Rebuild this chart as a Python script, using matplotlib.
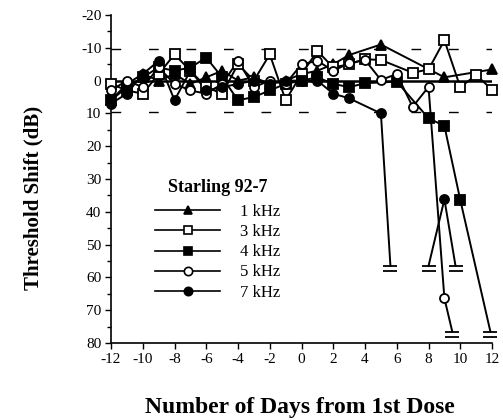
import numpy as np
import matplotlib
matplotlib.use('Agg')
from matplotlib import pyplot as plt
from matplotlib.path import Path

plt.rcParams['font.family'] = 'Liberation Serif'
plt.rcParams['axes.unicode_minus'] = False

nan = np.nan

# each series in drawing order; cap = "no response" point, nan = break in the line
day_1k = [-12, -11, -10, -9, -8, -7, -6, -5, -4, -3, -2, -1, 0, 1, 2, 3, 5, 9, 12]
shift_1k = [6, 1, -2, 0, -2, 1, -1, -3, 0, -1, 1, 0, -2, -3, -5, -7.8, -11, -1, -3.4]
cap_1k = [False] * len(day_1k)

day_3k = [-12, -11, -10, -9, -8, -7, -6, -5, -4, -3, -2, -1, 0, 1, 2, 3, 4, 5, 7, 8, 9, 10, 11, 12]
shift_3k = [1, 3, 4, -2, -8, -3, 2, 4, -5, 0, -8, 6, -2, -9, -4, -5, -6.5, -6.3, -2.4, -3.4, -12.3, 2, -1.7, 2.8]
cap_3k = [False] * len(day_3k)

day_4k = [-12, -11, -10, -9, -8, -7, -6, -5, -4, -3, -2, -1, 0, 1, 2, 3, 4, 6, 8, 9, 10, 11.9]
shift_4k = [6, 2, -1, -4, -3, -4, -7, -1, 6, 5, 3, 1, 0, -1, 1, 2, 0.8, 0.3, 11.5, 13.8, 36.4, 76.6]
cap_4k = [False] * 21 + [True]

day_5k = [-12, -11, -10, -9, -8, -7, -6, -5, -4, -3, -2, -1, 0, 1, 2, 3, 4, 5, 6, 7, 8, 9, 9.5]
shift_5k = [3, 0, 2, -4, 1, 3, 4, 1, -6, 2, 0, 1, -5, -6, -3, -5.3, -6.3, -0.2, -2, 8, 1.9, 66.4, 76.6]
cap_5k = [False] * 22 + [True]

day_7k = [-12, -11, -10, -9, -8, -7, -6, -5, -4, -3, -2, -1, 0, 1, 2, 3, 5, 5.6, nan, 8, 9, 9.7]
shift_7k = [7, 4, -2, -6, 6, -3, 3, 2, 1, 0, 1, 0, 0, 0, 4, 5.4, 10, 56.5, nan, 56.5, 36.2, 56.5]
cap_7k = [False] * 17 + [True, False, True, False, True]

labels = ['1 kHz', '3 kHz', '4 kHz', '5 kHz', '7 kHz']
x_ticks = list(range(-12, 13, 2))
y_ticks = list(range(-20, 81, 10))
normal_band = [-9.5, 9.5]

series = [
    (day_1k, shift_1k, cap_1k, '^', 'black'),
    (day_3k, shift_3k, cap_3k, 's', 'white'),
    (day_4k, shift_4k, cap_4k, 's', 'black'),
    (day_5k, shift_5k, cap_5k, 'o', 'white'),
    (day_7k, shift_7k, cap_7k, 'o', 'black'),
]

# double bar used for the no-response ends
cap_marker = Path([(-1, 0), (1, 0), (-1, -0.7), (1, -0.7)],
                  [Path.MOVETO, Path.LINETO, Path.MOVETO, Path.LINETO])

fig = plt.figure(figsize=(5.03, 4.20), dpi=100)
ax = fig.add_axes([0.2207, 0.1833, 0.7575, 0.781])

for y in normal_band:
    ax.axhline(y, color='black', lw=1, linestyle=(0, (7, 20)))
ax.axhline(0, color='black', lw=1.8, zorder=1)

for (d, s, c, m, fc), lab in zip(series, labels):
    d = np.array(d, dtype=float)
    s = np.array(s, dtype=float)
    c = np.array(c)
    ax.plot(d, s, color='black', lw=1.4, clip_on=False, zorder=2)
    ok = ~c & ~np.isnan(d)
    ax.plot(d[ok], s[ok], linestyle='none', marker=m, ms=6.5 if m != '^' else 7,
            mfc=fc, mec='black', mew=1.3, clip_on=False, zorder=3)
    if c.any():
        ax.plot(d[c], s[c], linestyle='none', marker=cap_marker, ms=10,
                mec='black', mew=1.3, clip_on=False, zorder=3)
    ax.plot([], [], color='black', lw=1.2, marker=m, ms=6, mfc=fc, mec='black',
            mew=1.2, label=lab)

ax.set_xlim(-12, 12)
ax.set_ylim(80, -20)
ax.set_xticks(x_ticks)
ax.set_yticks(y_ticks)
ax.set_yticks(list(range(-15, 80, 10)), minor=True)
ax.tick_params(axis='both', which='both', direction='out', length=4, width=1,
               labelsize=11, pad=3)
ax.tick_params(axis='y', which='minor', length=3)
for side in ['top', 'right']:
    ax.spines[side].set_visible(False)
for side in ['left', 'bottom']:
    ax.spines[side].set_linewidth(1.2)

leg = ax.legend(loc='upper left', bbox_to_anchor=(155 / 503, 1 - 204 / 420),
                bbox_transform=fig.transFigure, frameon=False, fontsize=12,
                handlelength=3.9, handletextpad=1.2, labelspacing=0.25,
                borderpad=0, borderaxespad=0, numpoints=1)
fig.text(218 / 503, 1 - 188 / 420, 'Starling 92-7', ha='center', va='center',
         fontsize=13, fontweight='bold')

fig.text(33 / 503, 1 - 198 / 420, 'Threshold Shift (dB)', rotation=90,
         ha='center', va='center', fontsize=15, fontweight='bold')
fig.text(300 / 503, 1 - 407 / 420, 'Number of Days from 1st Dose',
         ha='center', va='center', fontsize=17, fontweight='bold')

fig.savefig('out.png', dpi=100)
